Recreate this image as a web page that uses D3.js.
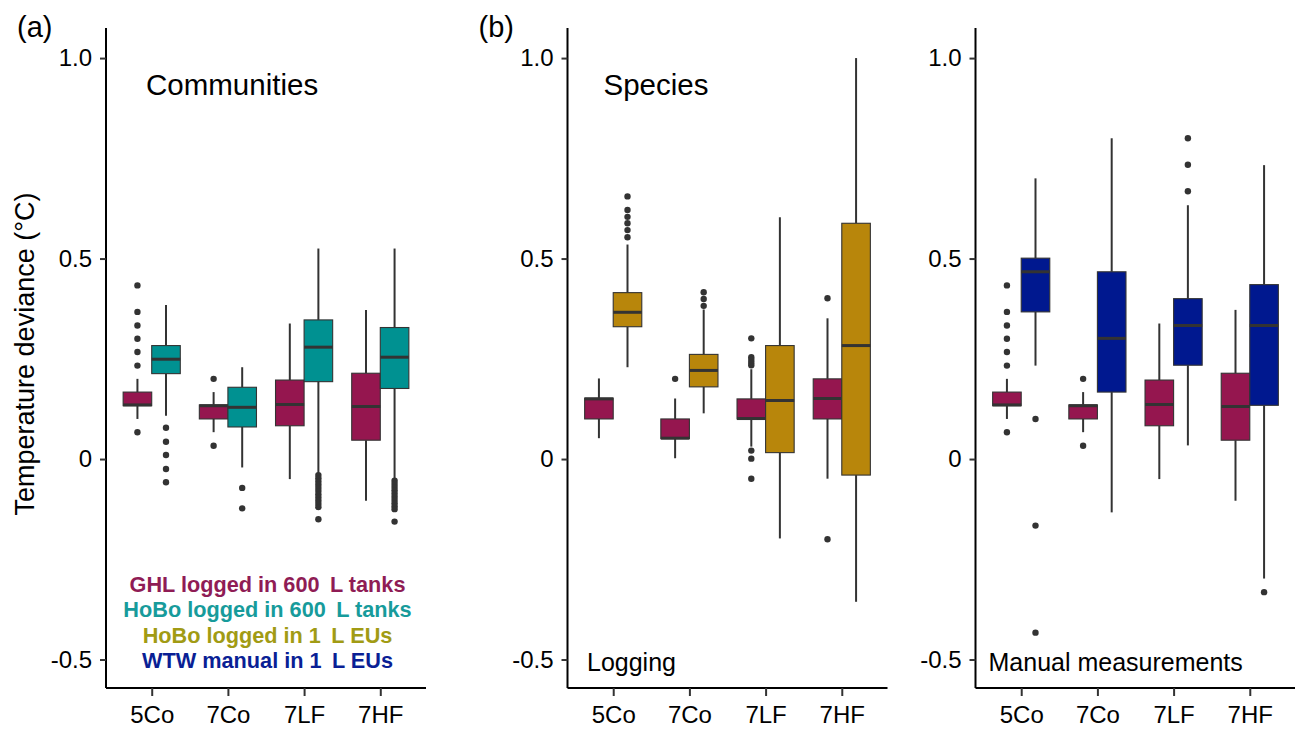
<!DOCTYPE html>
<html>
<head>
<meta charset="utf-8">
<script src="https://cdn.jsdelivr.net/npm/d3@7"></script>
<style>
  html, body { margin: 0; padding: 0; background: #fff; }
  svg { display: block; font-family: "Liberation Sans", Arial, Helvetica, sans-serif; }
</style>
</head>
<body>
<svg id="chart" width="1295" height="733"></svg>
<script>
// Treatments on the x axis and y tick labels
const categories = ["5Co", "7Co", "7LF", "7HF"];
const yTicks = [-0.5, 0, 0.5, 1.0];
const yTickLabels = ["-0.5", "0", "0.5", "1.0"];

// Box statistics per treatment: [lower whisker, Q1, median, Q3, upper whisker]
// GHL logger in the 600 L tanks (community runs)
const ghlCommunity = [
  [0.100, 0.133, 0.135, 0.167, 0.200],
  [0.067, 0.100, 0.133, 0.135, 0.167],
  [-0.050, 0.083, 0.136, 0.197, 0.338],
  [-0.104, 0.047, 0.131, 0.214, 0.372]
];
const ghlCommunityOut = [
  [0.433, 0.367, 0.333, 0.300, 0.267, 0.233, 0.067],
  [0.200, 0.033],
  [],
  []
];

// HoBo logger in the 600 L tanks
const hoboTank = [
  [0.108, 0.213, 0.249, 0.283, 0.384],
  [-0.021, 0.080, 0.129, 0.179, 0.229],
  [-0.036, 0.193, 0.279, 0.347, 0.525],
  [-0.052, 0.176, 0.254, 0.328, 0.525]
];
const hoboTankOut = [
  [0.078, 0.043, 0.010, -0.025, -0.058],
  [-0.072, -0.123],
  [-0.040, -0.048, -0.056, -0.064, -0.072, -0.080, -0.088, -0.096, -0.104, -0.112, -0.120, -0.150],
  [-0.054, -0.062, -0.070, -0.078, -0.086, -0.094, -0.102, -0.110, -0.118, -0.125, -0.156]
];

// GHL logger in the 600 L tanks (species runs)
const ghlSpecies = [
  [0.052, 0.100, 0.150, 0.152, 0.201],
  [0.002, 0.051, 0.052, 0.100, 0.151],
  [0.031, 0.100, 0.101, 0.150, 0.224],
  [-0.049, 0.100, 0.151, 0.200, 0.351]
];
const ghlSpeciesOut = [
  [],
  [0.200],
  [0.301, 0.254, 0.247, 0.240, 0.234, 0.021, 0.001, -0.049],
  [0.401, -0.200]
];

// HoBo logger in the 1 L experimental units
const hoboEU = [
  [0.229, 0.330, 0.366, 0.415, 0.535],
  [0.114, 0.180, 0.221, 0.261, 0.373],
  [-0.198, 0.016, 0.146, 0.283, 0.603],
  [-0.356, -0.040, 0.283, 0.588, 1.000]
];
const hoboEUOut = [
  [0.655, 0.621, 0.604, 0.588, 0.571, 0.553],
  [0.416, 0.399, 0.382],
  [],
  []
];

// WTW manual readings in the 1 L experimental units
const wtwManual = [
  [0.233, 0.367, 0.467, 0.501, 0.700],
  [-0.133, 0.167, 0.301, 0.467, 0.800],
  [0.034, 0.234, 0.333, 0.400, 0.633],
  [-0.298, 0.134, 0.333, 0.435, 0.733]
];
const wtwManualOut = [
  [0.100, -0.166, -0.433],
  [],
  [0.800, 0.734, 0.668],
  [-0.332]
];

// Fill colours and legend text
const colGHL = "#95164f", colHoboTank = "#009191", colHoboEU = "#b8860b", colWTW = "#00188f";
const legendLines = ["GHL logged in 600\u2009 L tanks", "HoBo logged in 600\u2009 L tanks", "HoBo logged in 1\u2009 L EUs", "WTW manual in 1\u2009 L EUs"];
const legendColors = ["#8f1c55", "#179b9b", "#a19b14", "#0a1f95"];

const svg = d3.select("#chart");
const plotTop = 28, plotBottom = 688;
const panelWidth = 320;
const y = d3.scaleLinear().domain([-0.571, 1.075]).range([plotBottom, plotTop]);

const panels = [
  { x0: 106,   tag: "(a)", title: "Communities", note: null, noteX: 0,
    series: [[ghlCommunity, ghlCommunityOut, colGHL], [hoboTank, hoboTankOut, colHoboTank]] },
  { x0: 567.5, tag: "(b)", title: "Species", note: "Logging", noteX: 19.5,
    series: [[ghlSpecies, ghlSpeciesOut, colGHL], [hoboEU, hoboEUOut, colHoboEU]] },
  { x0: 975.5, tag: null, title: null, note: "Manual measurements", noteX: 13,
    series: [[ghlCommunity, ghlCommunityOut, colGHL], [wtwManual, wtwManualOut, colWTW]] }
];

panels.forEach((p, pi) => {
  const g = svg.append("g").attr("transform", `translate(${p.x0},0)`);
  const x = d3.scalePoint().domain(categories).range([0, panelWidth]).padding(0.6);
  const step = x.step();
  const boxW = step * 0.75 / 2;

  // boxes, dodged left/right of each treatment
  p.series.forEach(([stats, outs, fill], si) => {
    const dx = (si === 0 ? -1 : 1) * boxW / 2;
    categories.forEach((c, ci) => {
      const [lo, q1, med, q3, hi] = stats[ci];
      const cx = x(c) + dx;
      const bg = g.append("g");
      bg.append("line").attr("x1", cx).attr("x2", cx).attr("y1", y(hi)).attr("y2", y(q3))
        .attr("stroke", "#333").attr("stroke-width", 2);
      bg.append("line").attr("x1", cx).attr("x2", cx).attr("y1", y(q1)).attr("y2", y(lo))
        .attr("stroke", "#333").attr("stroke-width", 2);
      bg.append("rect").attr("x", cx - boxW / 2).attr("width", boxW)
        .attr("y", y(q3)).attr("height", y(q1) - y(q3))
        .attr("fill", fill).attr("stroke", "#333").attr("stroke-width", 1.1);
      bg.append("line").attr("x1", cx - boxW / 2).attr("x2", cx + boxW / 2)
        .attr("y1", y(med)).attr("y2", y(med))
        .attr("stroke", "#333").attr("stroke-width", 3);
      bg.selectAll("circle").data(outs[ci]).join("circle")
        .attr("cx", cx).attr("cy", d => y(d)).attr("r", 3.2).attr("fill", "#333");
    });
  });

  // axes
  const yAxis = d3.axisLeft(y).tickValues(yTicks).tickSize(6).tickPadding(8)
    .tickFormat((d, i) => yTickLabels[i]);
  const ya = g.append("g").call(yAxis);
  ya.select(".domain").attr("d", `M0,${plotTop}V${plotBottom}`);
  const xAxis = d3.axisBottom(x).tickSize(8).tickPadding(10);
  const xa = g.append("g").attr("transform", `translate(0,${plotBottom})`).call(xAxis);
  xa.select(".domain").attr("d", `M0,0H${panelWidth}`);
  [ya, xa].forEach(a => {
    a.select(".domain").attr("stroke", "#000").attr("stroke-width", 2);
    a.selectAll(".tick line").attr("stroke", "#333").attr("stroke-width", 2);
    a.selectAll(".tick text").attr("fill", "#000").style("font-size", "24px")
      .style("font-family", "'Liberation Sans', Arial, sans-serif");
  });

  if (p.tag) {
    svg.append("text").attr("x", p.x0 - 89).attr("y", 37).text(p.tag)
      .style("font-size", "29px").attr("fill", "#000");
  }
  if (p.title) {
    g.append("text").attr("x", pi === 0 ? 40 : 36).attr("y", 95).text(p.title)
      .style("font-size", "29.5px").attr("fill", "#000");
  }
  if (p.note) {
    g.append("text").attr("x", p.noteX).attr("y", 671).text(p.note)
      .style("font-size", "25px").attr("fill", "#000");
  }
  if (pi === 0) {
    legendLines.forEach((t, i) => {
      g.append("text").attr("x", 161.5).attr("y", 591.5 + i * 25.5)
        .attr("text-anchor", "middle").attr("fill", legendColors[i])
        .style("font-size", "21.7px").style("font-weight", "bold").text(t);
    });
  }
});

// shared y axis title
svg.append("text")
  .attr("transform", `translate(34,${(plotTop + plotBottom) / 2 - 4}) rotate(-90)`)
  .attr("text-anchor", "middle").style("font-size", "27px").attr("fill", "#000")
  .text("Temperature deviance (\u00b0C)");
</script>
</body>
</html>
